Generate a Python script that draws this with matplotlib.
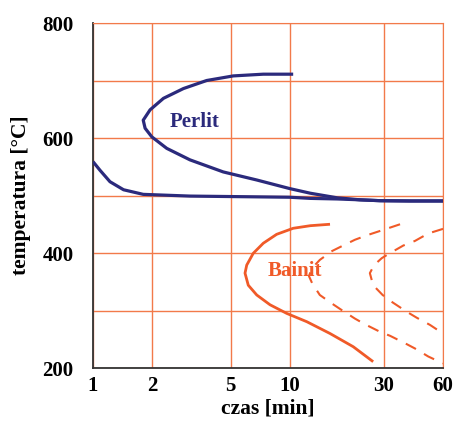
import matplotlib.pyplot as plt
import numpy as np

# Perlit C-curve (time [min], temperature [C])
perlit_t = [10.4, 7.33, 5.16, 3.78, 2.88, 2.28, 1.95, 1.80, 1.84, 1.99, 2.37, 3.11,
            4.59, 6.79, 10.0, 12.7, 17.4, 22.7, 28.7, 40.8, 60]
perlit_T = [711, 711, 708, 700, 686, 669, 649, 631, 617, 602, 582, 562,
            541, 527, 512, 504, 496, 492.5, 491, 490.5, 490.5]

# lower blue curve
low_t = [1.0, 1.085, 1.22, 1.43, 1.80, 3.11, 5.58, 10.0, 12.7, 17.4, 22.7, 28.7, 40.8, 60]
low_T = [559, 544, 524, 510, 502, 499, 498, 497, 495, 494, 492.5, 491, 490.5, 490.5]

# Bainit solid curve
bain_t = [16.0, 12.7, 10.4, 8.57, 7.33, 6.52, 6.04, 5.92, 6.15, 6.79, 7.93, 9.64,
          12.2, 16.0, 21.0, 26.5]
bain_T = [450, 447.5, 443, 432.5, 417, 399.5, 379, 365, 344, 327, 310, 295,
          280.5, 260, 237, 211]

# dashed curves
dashA_t = [36.3, 29.7, 24.7, 21.4, 18.4, 16.4, 14.2, 13.0, 12.5, 13.0, 14.2, 16.3,
           18.3, 21.4, 24.1, 28.7, 32.3, 38.5, 43.2, 50.5, 60]
dashA_T = [450, 440, 431, 423, 412, 403.5, 388, 374, 360, 347, 327, 312.5,
           301, 286, 276, 263, 256, 243, 234, 220, 208]
dashB_t = [60, 50.5, 43.2, 37.7, 31.6, 29.3, 26.8, 25.5, 26.5, 29.6, 33.3, 39.2,
           44.1, 51.5, 60]
dashB_T = [442, 434, 421, 413, 398, 391, 379, 365, 344, 327, 314, 298,
           287.5, 275, 260]

xticks = [1, 2, 5, 10, 30, 60]
yticks = [200, 300, 400, 500, 600, 700, 800]
yticklabels = ['200', '', '400', '', '600', '', '800']

blue = '#2b2a7c'
red = '#f05a28'
grid = '#f27a4a'

plt.rcParams['font.family'] = ['Liberation Serif', 'DejaVu Serif']

fig = plt.figure(figsize=(4.54, 4.23), dpi=100)
ax = fig.add_axes([0.2048, 0.130, 0.771, 0.8156])

ax.set_xscale('log')
ax.set_xlim(1, 60)
ax.set_ylim(200, 800)

for x in xticks:
    ax.axvline(x, color=grid, lw=1.0, zorder=1)
for y in yticks:
    ax.axhline(y, color=grid, lw=1.0, zorder=1)

ax.plot(perlit_t, perlit_T, color=blue, lw=2.3, zorder=3, solid_capstyle='butt',
        solid_joinstyle='round')
ax.plot(low_t, low_T, color=blue, lw=2.3, zorder=3, solid_capstyle='butt',
        solid_joinstyle='round')
ax.plot(bain_t, bain_T, color=red, lw=2.0, zorder=3, solid_capstyle='butt',
        solid_joinstyle='round')
ax.plot(dashA_t, dashA_T, color=red, lw=1.5, ls=(0, (5.5, 4.5)), zorder=3)
ax.plot(dashB_t, dashB_T, color=red, lw=1.5, ls=(0, (5.5, 4.5)), zorder=3)

ax.text(3.3, 628, 'Perlit', color=blue, fontsize=15, fontweight='bold',
        ha='center', va='center', zorder=4)
ax.text(10.6, 369, 'Bainit', color=red, fontsize=15, fontweight='bold',
        ha='center', va='center', zorder=4)

ax.set_xticks(xticks)
ax.set_xticklabels([str(x) for x in xticks])
ax.xaxis.set_minor_locator(plt.NullLocator())
ax.set_yticks(yticks)
ax.set_yticklabels(yticklabels)
ax.tick_params(length=0, labelsize=15)
ax.tick_params(axis='y', pad=14)
ax.tick_params(axis='x', pad=6)
for lab in ax.get_xticklabels() + ax.get_yticklabels():
    lab.set_fontweight('bold')

ax.set_xlabel('czas [min]', fontsize=15.5, fontweight='bold', va='center')
ax.set_ylabel('temperatura [°C]', fontsize=15.5, fontweight='bold', va='center')
ax.xaxis.set_label_coords(0.5, -0.118)
ax.yaxis.set_label_coords(-0.205, 0.5)

ax.spines['top'].set_color(grid)
ax.spines['right'].set_color(grid)
ax.spines['left'].set_color('#333333')
ax.spines['bottom'].set_color('#333333')
ax.spines['left'].set_linewidth(1.3)
ax.spines['bottom'].set_linewidth(1.3)

fig.savefig('out.png', dpi=100)
